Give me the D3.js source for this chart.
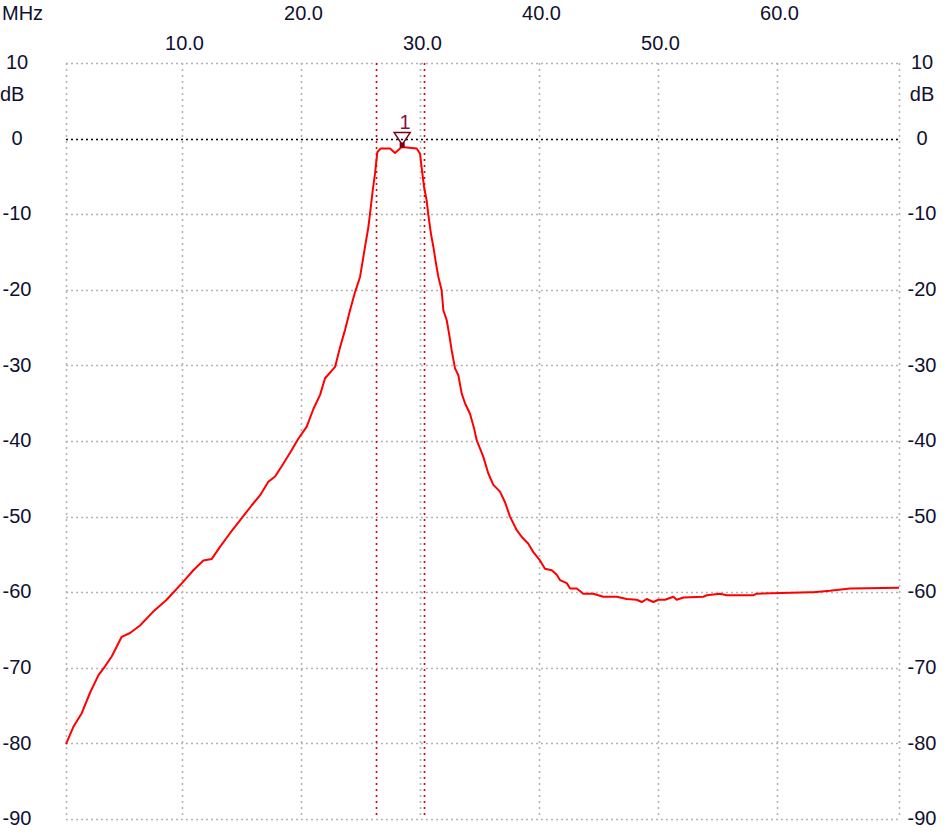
<!DOCTYPE html>
<html>
<head>
<meta charset="utf-8">
<script src="https://cdn.jsdelivr.net/npm/d3@7"></script>
<style>
  html, body { margin: 0; padding: 0; background: #ffffff; }
  svg { display: block; font-family: "Liberation Sans", Arial, sans-serif; }
</style>
</head>
<body>
<svg id="chart" width="951" height="836"></svg>
<script>
// ---- data ----
const freqMHz = [0.25, 0.87, 1.57, 2.27, 2.97, 3.53, 4.09, 4.93, 5.63, 6.47, 7.56, 8.71, 10.11, 10.95, 11.79, 12.50, 13.19, 14.03, 14.87, 15.86, 16.55, 17.25, 17.82, 18.51, 19.22, 19.77, 20.48, 21.03, 21.60, 22.02, 22.86, 23.28, 23.70, 24.12, 24.54, 24.96, 25.38, 25.66, 25.80, 26.03, 26.22, 26.41, 26.70, 27.48, 27.90, 28.46, 29.72, 30.00, 30.14, 30.34, 30.56, 30.70, 30.92, 31.12, 31.34, 31.54, 31.82, 31.96, 32.24, 32.44, 32.66, 32.94, 33.22, 33.50, 33.78, 34.20, 34.54, 34.76, 35.32, 35.74, 36.16, 36.72, 37.14, 37.56, 38.13, 38.55, 39.10, 39.52, 40.08, 40.50, 41.07, 41.49, 41.76, 42.33, 42.61, 43.17, 43.72, 44.56, 45.40, 46.53, 47.37, 48.21, 48.63, 49.05, 49.61, 50.03, 50.59, 51.29, 51.57, 52.13, 53.81, 54.09, 55.21, 55.77, 58.01, 58.29, 62.77, 63.05, 64.45, 66.13, 70.25];
const gainDb = [-80.1, -77.8, -76.0, -73.3, -71.0, -69.8, -68.5, -65.9, -65.4, -64.4, -62.6, -61.0, -58.6, -57.1, -55.8, -55.6, -54.0, -52.2, -50.5, -48.5, -47.2, -45.4, -44.7, -43.0, -41.2, -39.7, -38.1, -35.8, -33.9, -31.7, -30.2, -27.6, -25.3, -22.7, -20.3, -18.3, -14.3, -11.7, -9.9, -6.8, -4.6, -1.8, -1.3, -1.3, -1.9, -1.1, -1.3, -2.0, -3.9, -6.4, -8.2, -10.1, -12.6, -14.3, -16.5, -18.3, -20.1, -22.7, -24.0, -25.8, -28.0, -30.4, -31.3, -33.7, -35.0, -36.4, -38.3, -39.9, -42.1, -44.3, -45.8, -46.7, -48.1, -50.0, -51.8, -52.7, -53.6, -54.7, -55.8, -56.9, -57.1, -57.7, -58.4, -58.8, -59.5, -59.5, -60.2, -60.2, -60.6, -60.6, -60.9, -61.0, -61.3, -60.9, -61.3, -61.0, -61.0, -60.6, -61.0, -60.7, -60.6, -60.4, -60.2, -60.4, -60.4, -60.2, -60.0, -60.0, -59.8, -59.5, -59.4];
const xTickValues = [10, 20, 30, 40, 50, 60];
const xTickLabels = ["10.0", "20.0", "30.0", "40.0", "50.0", "60.0"];
const yTickValues = [10, 0, -10, -20, -30, -40, -50, -60, -70, -80, -90];
const yTickLabels = ["10", "0", "-10", "-20", "-30", "-40", "-50", "-60", "-70", "-80", "-90"];
const xUnit = "MHz";
const yUnit = "dB";
const markerLineFreqs = [26.27, 30.33];
const markerFreq = 28.5;
const markerLabel = "1";

(function () {
// ---- layout ----
const svg = d3.select("#chart");
const pLeft = 66, pRight = 899, pTop = 63, pBottom = 819;
const x = d3.scaleLinear().domain([0.25, 70.25]).range([pLeft, pRight]);
const y = d3.scaleLinear().domain([-90, 10]).range([pBottom, pTop]);
const textColor = "#101030";
const gridColor = "#b4b4b4";

// vertical grid (incl. borders)
const vLines = [x.domain()[0]].concat(xTickValues, [x.domain()[1]]);
svg.append("g").selectAll("line").data(vLines).join("line")
  .attr("x1", d => Math.round(x(d)) + 0.5).attr("x2", d => Math.round(x(d)) + 0.5)
  .attr("y1", pTop).attr("y2", pBottom)
  .attr("stroke", gridColor).attr("stroke-width", 1.6)
  .attr("stroke-dasharray", "2,4");

// horizontal grid
svg.append("g").selectAll("line").data(yTickValues.filter(d => d !== 0)).join("line")
  .attr("x1", pLeft).attr("x2", pRight)
  .attr("y1", d => Math.round(y(d)) + 0.5).attr("y2", d => Math.round(y(d)) + 0.5)
  .attr("stroke", gridColor).attr("stroke-width", 1.6)
  .attr("stroke-dasharray", "2,3");

// zero reference line (black dotted)
svg.append("line")
  .attr("x1", pLeft).attr("x2", pRight)
  .attr("y1", Math.round(y(0)) + 0.5).attr("y2", Math.round(y(0)) + 0.5)
  .attr("stroke", "#000").attr("stroke-width", 1.6)
  .attr("stroke-dasharray", "2,3");

// marker lines (red dotted)
svg.append("g").selectAll("line").data(markerLineFreqs).join("line")
  .attr("x1", d => Math.round(x(d)) + 0.5).attr("x2", d => Math.round(x(d)) + 0.5)
  .attr("y1", pTop).attr("y2", pBottom)
  .attr("stroke", "#e00000").attr("stroke-width", 1.6)
  .attr("stroke-dasharray", "2,4");

// curve
const pts = freqMHz.map((f, i) => [f, gainDb[i]]);
svg.append("path")
  .datum(pts)
  .attr("fill", "none")
  .attr("stroke", "#ff0000")
  .attr("stroke-width", 2)
  .attr("stroke-linejoin", "round")
  .attr("d", d3.line().x(d => x(d[0])).y(d => y(d[1])));

// marker triangle
const mx = x(markerFreq);
const y0 = y(0);
svg.append("path")
  .attr("d", `M${mx - 8},${y0 - 6} L${mx + 8},${y0 - 6} L${mx},${y0 + 6} Z`)
  .attr("fill", "none").attr("stroke", "#7a0010").attr("stroke-width", 1.5);
svg.append("rect")
  .attr("x", mx - 2.5).attr("y", y0 + 4).attr("width", 5).attr("height", 5)
  .attr("fill", "#7a0010");
svg.append("text")
  .attr("x", mx + 3).attr("y", y0 - 10)
  .attr("text-anchor", "middle")
  .attr("font-size", 20).attr("fill", "#8a1040")
  .text(markerLabel);

// y axes
const yFmt = d => yTickLabels[yTickValues.indexOf(d)];
const yAxisL = svg.append("g").attr("transform", "translate(17,0)")
  .call(d3.axisLeft(y).tickValues(yTickValues).tickSize(0).tickPadding(0).tickFormat(yFmt));
const yAxisR = svg.append("g").attr("transform", "translate(922,0)")
  .call(d3.axisRight(y).tickValues(yTickValues).tickSize(0).tickPadding(0).tickFormat(yFmt));
[yAxisL, yAxisR].forEach(g => {
  g.select(".domain").remove();
  g.selectAll("text")
    .attr("x", 0).attr("dy", "0.28em")
    .attr("text-anchor", "middle")
    .attr("font-size", 20).attr("fill", textColor)
    .attr("font-family", "Liberation Sans, Arial, sans-serif");
});

// x axis (staggered labels at top)
const xAxis = svg.append("g")
  .call(d3.axisTop(x).tickValues(xTickValues).tickSize(0).tickPadding(0)
    .tickFormat((d, i) => xTickLabels[i]));
xAxis.select(".domain").remove();
xAxis.selectAll("text")
  .attr("y", (d, i) => (i % 2 === 0 ? 50 : 20))
  .attr("dy", 0).attr("dx", 2)
  .attr("text-anchor", "middle")
  .attr("font-size", 20).attr("fill", textColor)
  .attr("font-family", "Liberation Sans, Arial, sans-serif");

// unit labels
svg.append("text").attr("x", 2).attr("y", 20)
  .attr("font-size", 20).attr("fill", textColor).text(xUnit);
svg.append("text").attr("x", 0).attr("y", 101)
  .attr("font-size", 20).attr("fill", textColor).text(yUnit);
svg.append("text").attr("x", 922).attr("y", 101).attr("text-anchor", "middle")
  .attr("font-size", 20).attr("fill", textColor).text(yUnit);
})();
</script>
</body>
</html>
